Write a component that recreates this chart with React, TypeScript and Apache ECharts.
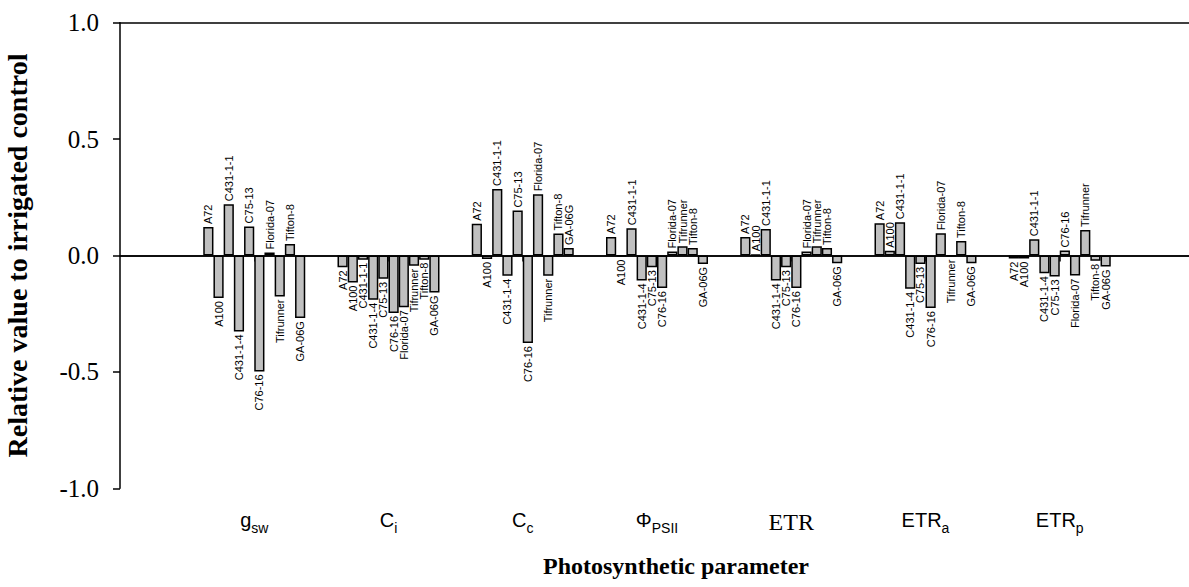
import React, { useEffect, useRef } from "react";
import * as echarts from "echarts";

// Photosynthetic parameters (x-axis categories, padded with empty ends)
const paramLabels = [
  "",
  "{m|g}{s|sw}",
  "{m|C}{s|i}",
  "{m|C}{s|c}",
  "{m|\u03A6}{s|PSII}",
  "{e|ETR}",
  "{m|ETR}{s|a}",
  "{m|ETR}{s|p}",
  "",
];

const cultivars = [
  "A72",
  "A100",
  "C431-1-1",
  "C431-1-4",
  "C75-13",
  "C76-16",
  "Florida-07",
  "Tifrunner",
  "Tifton-8",
  "GA-06G",
];

// values for gsw, Ci, Cc, PhiPSII, ETR, ETRa, ETRp
const A72 = [0.122, -0.051, 0.136, 0.08, 0.08, 0.139, -0.013];
const A100 = [-0.183, -0.116, -0.015, -0.003, 0.005, 0.02, -0.013];
const C431_1_1 = [0.22, -0.018, 0.286, 0.117, 0.114, 0.143, 0.07];
const C431_1_4 = [-0.326, -0.19, -0.087, -0.107, -0.107, -0.143, -0.076];
const C75_13 = [0.125, -0.1, 0.193, -0.05, -0.05, -0.036, -0.09];
const C76_16 = [-0.498, -0.247, -0.376, -0.14, -0.14, -0.226, 0.021];
const Florida_07 = [0.013, -0.222, 0.263, 0.017, 0.017, 0.096, -0.086];
const Tifrunner = [-0.176, -0.044, -0.087, 0.04, 0.04, -0.003, 0.11];
const Tifton_8 = [0.049, -0.018, 0.094, 0.032, 0.032, 0.062, -0.023];
const GA_06G = [-0.269, -0.159, 0.032, -0.036, -0.033, -0.033, -0.047];

const seriesValues = [
  A72,
  A100,
  C431_1_1,
  C431_1_4,
  C75_13,
  C76_16,
  Florida_07,
  Tifrunner,
  Tifton_8,
  GA_06G,
];

const yTicks = [-1.0, -0.5, 0.0, 0.5, 1.0];

const SERIF = "Liberation Serif";
const SANS = "Liberation Sans";

export default function App() {
  const ref = useRef<HTMLDivElement>(null);

  useEffect(() => {
    if (!ref.current) return;
    const chart = echarts.init(ref.current, undefined, { renderer: "svg" });

    const series = cultivars.map((name, si) => {
      const vals = seriesValues[si];
      const data: any[] = [null];
      vals.forEach((v) => {
        data.push({
          value: v,
          label:
            v >= 0
              ? { position: "top", align: "left", verticalAlign: "middle" }
              : { position: "bottom", align: "right", verticalAlign: "middle" },
        });
      });
      data.push(null);
      const s: any = {
        name,
        type: "bar",
        xAxisIndex: 0,
        data,
        barWidth: 10.2,
        barGap: "0%",
        itemStyle: {
          color: "#c0c0c0",
          borderColor: "#000",
          borderWidth: 1.5,
        },
        label: {
          show: true,
          rotate: 90,
          distance: 3,
          formatter: name,
          fontFamily: SANS,
          fontSize: 11,
          color: "#000",
        },
        silent: true,
      };
      if (si === 0) {
        s.markLine = {
          silent: true,
          symbol: "none",
          label: { show: false },
          lineStyle: { color: "#000", width: 1.5, type: "solid" },
          data: [{ yAxis: 0 }],
        };
      }
      return s;
    });

    chart.setOption({
      animation: false,
      backgroundColor: "#fff",
      grid: {
        left: 120,
        top: 22.7,
        width: 1074,
        height: 465.6,
        containLabel: false,
        outerBoundsMode: "none",
      },
      xAxis: [
        {
          type: "category",
          data: paramLabels,
          boundaryGap: false,
          position: "bottom",
          axisLine: { show: true, lineStyle: { color: "#000", width: 1.5 } },
          axisTick: {
            show: true,
            length: 6,
            inside: false,
            interval: (i: number) => i > 0 && i < paramLabels.length - 1,
            lineStyle: { color: "#000", width: 1.5 },
          },
          splitLine: { show: false },
          axisLabel: {
            interval: 0,
            margin: 22,
            color: "#000",
            formatter: (v: string) => v,
            rich: {
              m: { fontFamily: SANS, fontSize: 20, lineHeight: 25, verticalAlign: "top" },
              s: { fontFamily: SANS, fontSize: 14, lineHeight: 25, verticalAlign: "bottom", padding: [13, 0, 0, 0] },
              e: { fontFamily: SERIF, fontSize: 24, lineHeight: 25, verticalAlign: "top" },
            },
          },
        },
        {
          type: "category",
          data: paramLabels,
          boundaryGap: false,
          position: "top",
          axisLine: { show: true, lineStyle: { color: "#000", width: 1.5 } },
          axisTick: { show: false },
          axisLabel: { show: false },
          splitLine: { show: false },
        },
      ],
      yAxis: {
        type: "value",
        min: yTicks[0],
        max: yTicks[yTicks.length - 1],
        interval: 0.5,
        axisLine: { show: true, lineStyle: { color: "#000", width: 1.5 } },
        axisTick: { show: true, length: 7, inside: false, lineStyle: { color: "#000", width: 1.5 } },
        splitLine: { show: false },
        axisLabel: {
          margin: 21,
          color: "#000",
          fontFamily: SERIF,
          fontSize: 25,
          formatter: (v: number) => v.toFixed(1),
        },
        name: "Relative value to irrigated control",
        nameLocation: "middle",
        nameGap: 89,
        nameTextStyle: {
          fontFamily: SERIF,
          fontWeight: "bold",
          fontSize: 28,
          color: "#000",
        },
      },
      graphic: [
        {
          type: "text",
          x: 676,
          y: 566,
          style: {
            text: "Photosynthetic parameter",
            font: `bold 24px "${SERIF}"`,
            fill: "#000",
            align: "center",
            verticalAlign: "middle",
          },
        },
      ],
      series,
    });

    return () => chart.dispose();
  }, []);

  return (
    <div
      ref={ref}
      style={{ position: "absolute", left: 0, top: 0, width: 1189, height: 587 }}
    />
  );
}
